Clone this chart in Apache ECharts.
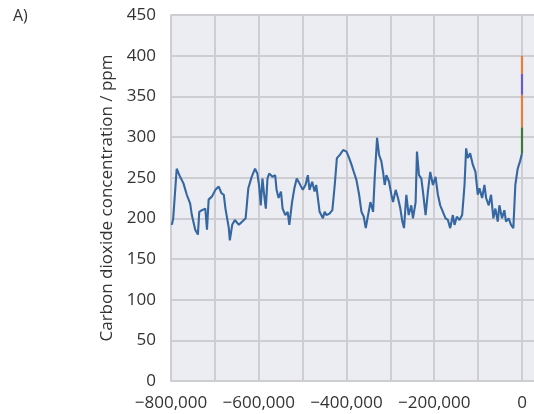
<!DOCTYPE html>
<html>
<head>
<meta charset="utf-8">
<script src="https://cdn.jsdelivr.net/npm/echarts@6/dist/echarts.min.js"></script>
<style>
html,body{margin:0;padding:0;background:#fff;overflow:hidden;}
#chart{width:534px;height:414px;}
</style>
</head>
<body>
<div id="chart"></div>
<script>
// Years (relative to present) of the ice-core CO2 record
const years = [
 -798000,-795000,-787000,-779300,-771600,-764000,-756300,-752500,-744800,-738700,
 -735600,-729500,-721800,-718000,-714200,-706500,-698800,-691200,-685100,-679700,
 -675900,-668200,-665900,-660500,-654400,-645200,-637500,-629900,-623800,-616100,
 -608400,-603100,-599300,-595400,-591600,-587700,-583900,-580100,-576300,-568600,
 -562500,-559400,-554800,-549400,-545600,-539500,-534100,-530300,-524100,-518800,
 -513400,-507300,-499600,-493500,-488100,-484300,-478200,-472800,-469000,-461300,
 -453700,-449800,-446000,-438300,-432200,-426800,-421900,
 -415200,-407600,-400000,-393900,-388600,-383300,-377300,-371200,-365900,-360600,
 -356100,-350800,-345500,-339400,-335600,-330300,-325800,-320500,-316700,-312900,
 -309100,-303000,-297700,-293900,-287900,-282600,-277300,-272700,-268900,-263600,
 -258300,-252300,-248500,-242400,-239400,-234800,-229500,-225800,-219700,-214400,
 -209100,-203000,-197000,-191700,-186400,-180300,-174200,-168900,-163600,-157600,
 -153800,-148500,-142400,-136400,-131000,-127300,-123500,-118200,-112100,-106100,
 -100800,-97000,-90900,-85600,-81800,-75800,-70500,-65200,-60600,-55300,
 -51500,-45500,-40200,-36400,-30300,-25000,-19700,-15200,-9800,-4500,0
];
// CO2 concentration / ppm (ice core)
const co2 = [
 192,200,261,251,243,229,218,204,186,180,
 208,210,212,186,223,227,235,239,231,229,
 212,188,173,192,198,192,196,200,237,251,
 261,255,241,216,249,229,212,249,255,251,
 253,235,225,233,212,204,208,192,220,237,
 249,243,235,241,253,235,245,233,241,208,
 200,208,204,206,210,241,274,
 278,284,282,274,266,257,247,229,208,202,
 188,204,220,208,251,299,278,270,257,241,
 253,245,229,220,235,225,212,196,188,229,
 204,216,200,220,282,253,249,233,204,233,
 257,241,251,229,216,208,200,198,188,204,
 192,202,198,204,241,286,274,280,266,257,
 229,237,225,241,225,216,229,200,212,196,
 216,200,210,196,200,192,188,241,261,270,280
];
// Recent measurement segments drawn at year 0
const recentGreen = [280, 312];
const recentOrange1 = [312, 352];
const recentPurple = [352, 378];
const recentOrange2 = [378, 400];

const yTicks = [0,50,100,150,200,250,300,350,400,450];
const xTickLabels = [-800000,-600000,-400000,-200000,0];

function fmtX(v){
  if (xTickLabels.indexOf(v) < 0) return '';
  if (v === 0) return '0';
  const s = Math.abs(v).toString().replace(/\B(?=(\d{3})+(?!\d))/g, ',');
  return (v < 0 ? '\u2212' : '') + s;
}

const chart = echarts.init(document.getElementById('chart'), null, {renderer:'canvas'});
const font = '"Open Sans", "DejaVu Sans", sans-serif';
const grid = '#cdcdd2';
const seg = (arr, color) => ({
  type:'line', data: arr.map(v => [0, v]), symbol:'none', animation:false,
  lineStyle:{color:color, width:2.2}, z:3
});
chart.setOption({
  animation:false,
  title:{text:'A)', left:8, top:3, textStyle:{fontFamily:font, fontSize:16, fontWeight:'normal', color:'#333'}},
  grid:{left:171, top:15, width:371, bottom:33, outerBoundsMode:'none', containLabel:false,
        show:true, backgroundColor:'#ececf3', borderColor:grid, borderWidth:1.5},
  xAxis:{
    type:'value', min:-800000, max:45600, interval:100000,
    axisLine:{show:false}, axisTick:{show:false},
    axisLabel:{formatter:fmtX, fontFamily:font, fontSize:17, color:'#333', margin:14},
    splitLine:{show:true, lineStyle:{color:grid, width:2}}
  },
  yAxis:{
    type:'value', min:yTicks[0], max:yTicks[yTicks.length-1], interval:50,
    name:'Carbon dioxide concentration / ppm', nameLocation:'middle', nameGap:42,
    nameTextStyle:{fontFamily:font, fontSize:17, color:'#333'},
    axisLine:{show:false}, axisTick:{show:false},
    axisLabel:{fontFamily:font, fontSize:17, color:'#333', margin:15},
    splitLine:{show:true, lineStyle:{color:grid, width:2}}
  },
  series:[
    {type:'line', data: years.map((y,i)=>[y, co2[i]]), symbol:'none',
     lineStyle:{color:'#3567a0', width:2.1}, z:2},
    seg(recentGreen, '#3e7a35'),
    seg(recentOrange1, '#e07f3e'),
    seg(recentPurple, '#6a5cc0'),
    seg(recentOrange2, '#e07f3e')
  ]
});
</script>
</body>
</html>
